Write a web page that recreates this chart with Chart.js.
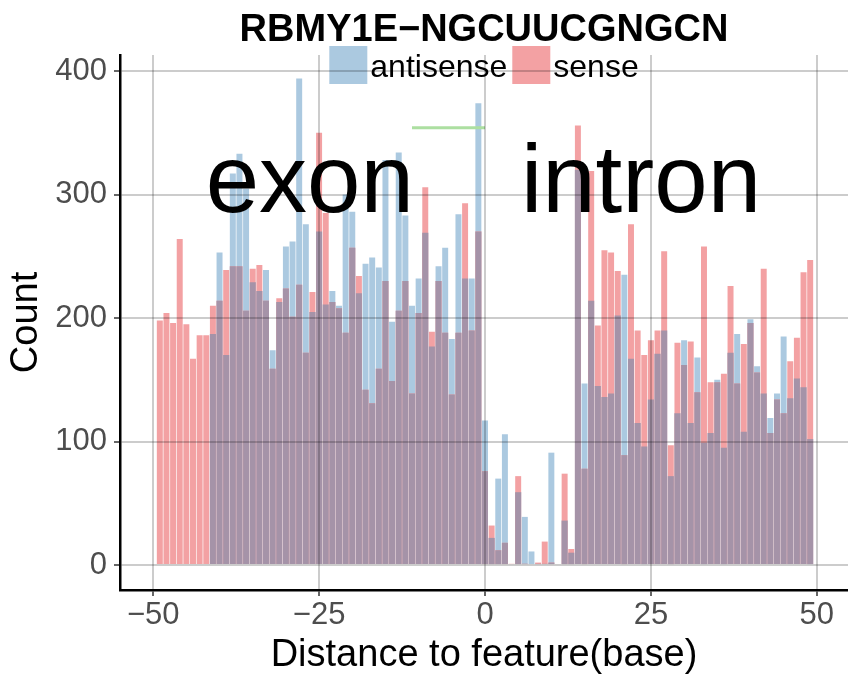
<!DOCTYPE html>
<html>
<head>
<meta charset="utf-8">
<script src="https://cdn.jsdelivr.net/npm/chart.js@4.4.1/dist/chart.umd.min.js"></script>
<style>
  html, body { margin: 0; padding: 0; background: #fff; }
  #wrap { width: 848px; height: 678px; }
</style>
</head>
<body>
<div id="wrap"><canvas id="chart" width="848" height="678"></canvas></div>
<script>
// positions -50..50
const positions = [];
for (let p = -50; p <= 50; p++) positions.push(p);

const antisense = [
  0, 0, 0, 0, 0, 0, 0, 0, 0, 187,          // -50..-41
  253, 170, 317, 333, 305, 229, 222, 239, 174, 213, // -40..-31
  258, 262, 394, 276, 205, 270, 211, 222, 210, 300, // -30..-21
  286, 220, 244, 249, 241, 328, 197, 334, 283, 210, // -20..-11
  232, 269, 177, 242, 257, 183, 284, 232, 232, 374, // -10..-1
  117,                                              // 0
  22, 70, 106, 0, 59, 39, 11, 1, 1, 91,              // 1..10
  0, 36, 10, 320, 147, 214, 145, 136, 139, 202,      // 11..20
  235, 167, 115, 96, 134, 171, 190, 72, 123, 182,    // 21..30
  115, 168, 99, 107, 150, 95, 172, 187, 108, 199,    // 31..40
  161, 139, 119, 139, 185, 135, 151, 144, 102, 0     // 41..50
];

const sense = [
  0, 198, 204, 196, 264, 195, 167, 186, 186, 210,    // -50..-41
  214, 239, 242, 242, 206, 240, 243, 214, 159, 216,  // -40..-31
  224, 201, 227, 172, 221, 350, 285, 213, 208, 188,  // -30..-21
  257, 234, 142, 131, 159, 230, 149, 206, 230, 139,  // -20..-11
  204, 306, 189, 230, 188, 138, 188, 293, 190, 270,  // -10..-1
  76,                                                // 0
  32, 12, 18, 1, 72, 1, 0, 2, 19, 2,                 // 1..10
  0, 74, 13, 356, 78, 319, 194, 255, 253, 238,       // 11..20
  89, 276, 190, 170, 182, 190, 254, 97, 180, 162,    // 21..30
  181, 140, 258, 148, 148, 155, 226, 147, 179, 196,  // 31..40
  156, 240, 107, 134, 123, 165, 184, 237, 247, 0     // 41..50
];

// short green segment drawn above the bars
const markerX = [-11, 0];
const markerY = [354, 354];

const xTicks = [-50, -25, 0, 25, 50];
const yTicks = [0, 100, 200, 300, 400];

const BLUE = '#abc9e0';
const RED = '#f3a1a3';
const PURPLE = '#a593a8';

const toPoints = arr => positions.map((p, i) => ({ x: p, y: arr[i] }));
// the part where both series overlap shows as purple
const overlap = positions.map((p, i) => ({ x: p, y: Math.min(antisense[i], sense[i]) }));

const minus = v => (v < 0 ? '\u2212' + Math.abs(v) : String(v));

const decorations = {
  id: 'decorations',
  afterDatasetsDraw(chart) {
    const ctx = chart.ctx;
    const area = chart.chartArea;
    ctx.save();
    // legend
    ctx.font = '32px "Liberation Sans", Arial, sans-serif';
    ctx.textBaseline = 'alphabetic';
    ctx.textAlign = 'left';
    const box = 38, gap = 3, itemGap = 5;
    const items = [['antisense', BLUE], ['sense', RED]];
    const widths = items.map(it => ctx.measureText(it[0]).width);
    const total = items.length * (box + gap) + widths[0] + widths[1] + itemGap;
    let lx = (area.left + area.right) / 2 - total / 2;
    items.forEach((it, i) => {
      ctx.fillStyle = it[1];
      ctx.fillRect(lx, 46, box, box);
      ctx.fillStyle = '#000';
      ctx.fillText(it[0], lx + box + gap, 77);
      lx += box + gap + widths[i] + itemGap;
    });
    ctx.restore();
  },
  afterDraw(chart) {
    const ctx = chart.ctx;
    const area = chart.chartArea;
    const x = chart.scales.x, y = chart.scales.y;
    ctx.save();
    ctx.fillStyle = '#000';
    ctx.textAlign = 'center';
    ctx.textBaseline = 'alphabetic';
    ctx.font = 'bold 38px "Liberation Sans", Arial, sans-serif';
    ctx.fillText('RBMY1E\u2212NGCUUCGNGCN', (area.left + area.right) / 2, 41);
    ctx.font = '96px "Liberation Sans", Arial, sans-serif';
    ctx.fillText('exon', x.getPixelForValue(-26.4), y.getPixelForValue(286));
    ctx.fillText('intron', x.getPixelForValue(23.5), y.getPixelForValue(286));
    ctx.restore();
  }
};

new Chart(document.getElementById('chart'), {
  data: {
    datasets: [
      { type: 'bar', label: 'antisense', data: toPoints(antisense), backgroundColor: BLUE, order: 4 },
      { type: 'bar', label: 'sense', data: toPoints(sense), backgroundColor: RED, order: 3 },
      { type: 'bar', label: 'both', data: overlap, backgroundColor: PURPLE, order: 2 },
      {
        type: 'line', label: 'marker',
        data: markerX.map((v, i) => ({ x: v, y: markerY[i] })),
        borderColor: '#acdfa1', borderWidth: 3, pointRadius: 0, order: 1
      }
    ]
  },
  options: {
    responsive: false,
    animation: false,
    datasets: {
      bar: { grouped: false, categoryPercentage: 1, barPercentage: 0.9, borderWidth: 0 }
    },
    layout: { padding: { top: 55, left: 0, right: 0, bottom: 0 } },
    plugins: { legend: { display: false }, tooltip: { enabled: false }, title: { display: false } },
    scales: {
      x: {
        type: 'linear', min: -55, max: 54.7, offset: false,
        afterBuildTicks: s => { s.ticks = xTicks.map(v => ({ value: v })); },
        afterFit: s => { s.height = 88; },
        grid: { offset: false, color: 'rgba(0,0,0,0.2)', lineWidth: 2, z: 1, tickLength: 6, tickColor: '#333', tickWidth: 1.5 },
        border: { display: true, color: '#000', width: 2.5, z: 1 },
        ticks: {
          padding: 1, color: '#4d4d4d', maxRotation: 0,
          font: { size: 31, family: '"Liberation Sans", Arial, sans-serif' },
          callback: v => minus(v)
        },
        title: {
          display: true, text: 'Distance to feature(base)', color: '#000',
          font: { size: 38, family: '"Liberation Sans", Arial, sans-serif' },
          padding: { top: 0, bottom: 0 }
        }
      },
      y: {
        type: 'linear', min: -20.2, max: 413,
        afterBuildTicks: s => { s.ticks = yTicks.map(v => ({ value: v })); },
        afterFit: s => { s.width = 120; },
        grid: { color: 'rgba(0,0,0,0.2)', lineWidth: 2, z: 1, tickLength: 6, tickColor: '#333', tickWidth: 1.5 },
        border: { display: true, color: '#000', width: 2.5, z: 1 },
        ticks: {
          padding: 7, color: '#4d4d4d',
          font: { size: 31, family: '"Liberation Sans", Arial, sans-serif' },
          callback: v => minus(v)
        },
        title: {
          display: true, text: 'Count', color: '#000',
          font: { size: 38, family: '"Liberation Sans", Arial, sans-serif' },
          padding: { top: 4, bottom: 0 }
        }
      }
    }
  },
  plugins: [decorations]
});
</script>
</body>
</html>
